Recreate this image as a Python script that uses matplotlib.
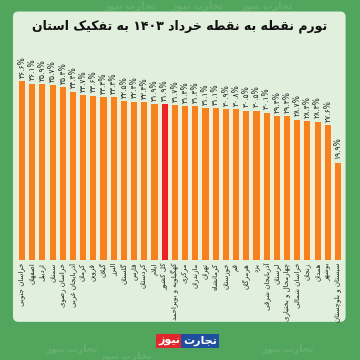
import re
import numpy as np
import matplotlib.pyplot as plt
from matplotlib.patches import FancyBboxPatch

# data
provinces = ["خراسان جنوبی", "اصفهان", "اردبیل", "سمنان", "خراسان رضوی",
             "آذربایجان غربی", "کرمان", "قزوین", "گیلان", "البرز", "گلستان",
             "فارس", "کردستان", "ایلام", "کل کشور", "کهگیلویه و بویراحمد",
             "مرکزی", "مازندران", "تهران", "کرمانشاه", "خوزستان", "قم",
             "هرمزگان", "یزد", "آذربایجان شرقی", "لرستان",
             "چهارمحال و بختیاری", "خراسان شمالی", "زنجان", "همدان", "بوشهر",
             "سیستان و بلوچستان"]
inflation = [36.6, 36.1, 35.9, 35.7, 35.4, 34.4, 33.7, 33.6, 33.3, 33.3, 32.5,
             32.4, 32.3, 31.9, 31.9, 31.7, 31.4, 31.4, 31.1, 31.1, 30.9, 30.8,
             30.5, 30.5, 30.1, 29.4, 29.4, 28.7, 28.4, 28.3, 27.6, 19.9]
national = "کل کشور"
title = "تورم نقطه به نقطه خرداد ۱۴۰۳ به تفکیک استان"

# matplotlib has no arabic shaping -> use presentation forms by hand
# (isolated, final, initial, medial)
FORMS = {
    'ا': ('\uFE8D', '\uFE8E', None, None),
    'آ': ('\uFE81', '\uFE82', None, None),
    'ب': ('\uFE8F', '\uFE90', '\uFE91', '\uFE92'),
    'پ': ('\uFB56', '\uFB57', '\uFB58', '\uFB59'),
    'ت': ('\uFE95', '\uFE96', '\uFE97', '\uFE98'),
    'ث': ('\uFE99', '\uFE9A', '\uFE9B', '\uFE9C'),
    'ج': ('\uFE9D', '\uFE9E', '\uFE9F', '\uFEA0'),
    'چ': ('\uFB7A', '\uFB7B', '\uFB7C', '\uFB7D'),
    'ح': ('\uFEA1', '\uFEA2', '\uFEA3', '\uFEA4'),
    'خ': ('\uFEA5', '\uFEA6', '\uFEA7', '\uFEA8'),
    'د': ('\uFEA9', '\uFEAA', None, None),
    'ذ': ('\uFEAB', '\uFEAC', None, None),
    'ر': ('\uFEAD', '\uFEAE', None, None),
    'ز': ('\uFEAF', '\uFEB0', None, None),
    'ژ': ('\uFB8A', '\uFB8B', None, None),
    'س': ('\uFEB1', '\uFEB2', '\uFEB3', '\uFEB4'),
    'ش': ('\uFEB5', '\uFEB6', '\uFEB7', '\uFEB8'),
    'ص': ('\uFEB9', '\uFEBA', '\uFEBB', '\uFEBC'),
    'ض': ('\uFEBD', '\uFEBE', '\uFEBF', '\uFEC0'),
    'ط': ('\uFEC1', '\uFEC2', '\uFEC3', '\uFEC4'),
    'ظ': ('\uFEC5', '\uFEC6', '\uFEC7', '\uFEC8'),
    'ع': ('\uFEC9', '\uFECA', '\uFECB', '\uFECC'),
    'غ': ('\uFECD', '\uFECE', '\uFECF', '\uFED0'),
    'ف': ('\uFED1', '\uFED2', '\uFED3', '\uFED4'),
    'ق': ('\uFED5', '\uFED6', '\uFED7', '\uFED8'),
    'ک': ('\uFB8E', '\uFB8F', '\uFB90', '\uFB91'),
    'گ': ('\uFB92', '\uFB93', '\uFB94', '\uFB95'),
    'ل': ('\uFEDD', '\uFEDE', '\uFEDF', '\uFEE0'),
    'م': ('\uFEE1', '\uFEE2', '\uFEE3', '\uFEE4'),
    'ن': ('\uFEE5', '\uFEE6', '\uFEE7', '\uFEE8'),
    'و': ('\uFEED', '\uFEEE', None, None),
    'ه': ('\uFEE9', '\uFEEA', '\uFEEB', '\uFEEC'),
    'ی': ('\uFBFC', '\uFBFD', '\uFBFE', '\uFBFF'),
}


def joins_next(c):
    return c in FORMS and FORMS[c][2] is not None


def fa(s):
    out = []
    i = 0
    while i < len(s):
        c = s[i]
        prev = s[i - 1] if i > 0 else ''
        nxt = s[i + 1] if i + 1 < len(s) else ''
        if c not in FORMS:
            out.append(c)
            i += 1
            continue
        jp = joins_next(prev)
        if c == 'ل' and nxt in ('ا', 'آ'):
            out.append('\uFEFC' if jp else '\uFEFB')
            i += 2
            continue
        jn = joins_next(c) and nxt in FORMS
        f = FORMS[c]
        if jp and jn:
            out.append(f[3])
        elif jp:
            out.append(f[1])
        elif jn:
            out.append(f[2])
        else:
            out.append(f[0])
        i += 1
    runs = re.findall(r'[0-9۰-۹.٪%]+|.', ''.join(out))
    return ''.join(reversed(runs))


def fa_num(v):
    return (f"{v:.1f}".translate(str.maketrans('0123456789', '۰۱۲۳۴۵۶۷۸۹'))
            + '%')


green = '#52a55c'
panel = '#e1f0dd'
orange = '#f5821f'
red = '#ee2124'
cream = '#f3eed6'

fig = plt.figure(figsize=(3.6, 3.6), dpi=100, facecolor=green)

# faint watermarks on the green border
for wx, wy in [(0.36, 0.985), (0.55, 0.985), (0.74, 0.985),
               (0.2, 0.03), (0.35, 0.012), (0.8, 0.03)]:
    fig.text(wx, wy, fa("تجارت نیوز"), ha='center', va='center',
             fontsize=7, color='white', alpha=0.12, fontweight='bold')

fig.patches.append(FancyBboxPatch((0.036, 0.106), 0.924, 0.862,
                                  boxstyle="round,pad=0,rounding_size=0.015",
                                  transform=fig.transFigure, facecolor=panel,
                                  edgecolor='none', zorder=-5))
fig.text(0.5, 0.928, fa(title), ha='center', va='center', fontsize=9,
         fontweight='bold', color='#111111')

ax = fig.add_axes([0.047, 0.278, 0.906, 0.509])
ax.set_facecolor('none')
ax.set_zorder(2)
x = np.arange(len(provinces))
cols = [red if p == national else orange for p in provinces]
ax.bar(x, inflation, width=1.0, color=cream, zorder=1)
ax.bar(x, inflation, width=0.6, color=cols, zorder=2)
for i, v in enumerate(inflation):
    ax.text(i, v + 0.7, fa_num(v), rotation=90, ha='center', va='bottom',
            fontsize=5.5, color='#222222', clip_on=False)

ax.set_xlim(-0.5, len(provinces) - 0.5)
ax.set_ylim(0, 37.5)
ax.set_xticks(x, [fa(p) for p in provinces], rotation=90, fontsize=5,
              color='#222222')
ax.tick_params(axis='x', length=0, pad=2)
ax.set_yticks([])
for s in ax.spines.values():
    s.set_visible(False)

# logo
fig.text(0.5, 0.053, fa("نیوز"), ha='right', va='center', fontsize=8,
         fontweight='bold', color='white',
         bbox=dict(boxstyle='square,pad=0.2', facecolor='#e3262b',
                   edgecolor='none'))
fig.text(0.508, 0.053, fa("تجارت"), ha='left', va='center', fontsize=8,
         fontweight='bold', color='white',
         bbox=dict(boxstyle='square,pad=0.2', facecolor='#1f4f9e',
                   edgecolor='none'))

fig.savefig('out.png', dpi=100, facecolor=green)
